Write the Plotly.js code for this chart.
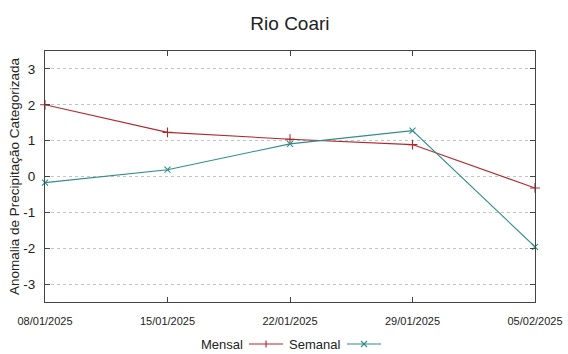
<!DOCTYPE html>
<html>
<head>
<meta charset="utf-8">
<script src="https://cdn.plot.ly/plotly-3.0.1.min.js"></script>
<style>html,body{margin:0;padding:0;background:#fff;}#chart{width:568px;height:354px;}</style>
</head>
<body>
<div id="chart"></div>
<script>
const dates = ["2025-01-08", "2025-01-15", "2025-01-22", "2025-01-29", "2025-02-05"];
const tickLabels = ["08/01/2025", "15/01/2025", "22/01/2025", "29/01/2025", "05/02/2025"];
const mensal = [2.0, 1.23, 1.04, 0.89, -0.32];
const semanal = [-0.17, 0.19, 0.91, 1.28, -1.96];
const yTicks = [-3, -2, -1, 0, 1, 2, 3];
const yTickLabels = ["-3", "-2", "-1", "0", "1", "2", "3"];
const seriesNames = ["Mensal", "Semanal"];
const yTitle = 'Anomalia de Precipitação Categorizada';

const RED = '#b3262c';
const TEAL = '#2f8c8c';
const FONT = 'Liberation Sans, Arial, sans-serif';

const traces = [
  {x: dates, y: mensal, name: seriesNames[0], type: 'scatter', mode: 'lines+markers',
   line: {color: RED, width: 1.1},
   marker: {symbol: 'cross-thin', size: 7, line: {color: RED, width: 1.1}},
   cliponaxis: false, showlegend: false},
  {x: dates, y: semanal, name: seriesNames[1], type: 'scatter', mode: 'lines+markers',
   line: {color: TEAL, width: 1.1},
   marker: {symbol: 'x-thin', size: 6, line: {color: TEAL, width: 1.1}},
   cliponaxis: false, showlegend: false}
];

const PW = 568 - 45 - 33, PH = 354 - 51 - 52;
function px2paperX(px){ return (px - 45) / PW; }
function px2paperY(py){ return (354 - 52 - py) / PH; }
const legY = px2paperY(344);
const shapes = [];
const annotations = [];
function legendItem(name, textRight, x0, x1, color, sym){
  annotations.push({xref:'paper', yref:'paper', x: px2paperX(textRight), y: legY,
    xanchor:'right', yanchor:'middle', text: name, showarrow:false,
    font:{family: FONT, size: 13, color:'#222'}});
  shapes.push({type:'line', xref:'paper', yref:'paper', x0: px2paperX(x0), x1: px2paperX(x1),
    y0: legY, y1: legY, line:{color: color, width: 1.1}});
  const cx = px2paperX((x0 + x1) / 2);
  const s = 3.5;
  if (sym === '+') {
    shapes.push({type:'line', xref:'paper', yref:'paper', xsizemode:'pixel', ysizemode:'pixel',
      xanchor: cx, yanchor: legY, x0: 0, x1: 0, y0: -s, y1: s, line:{color: color, width: 1.1}});
  } else {
    shapes.push({type:'line', xref:'paper', yref:'paper', xsizemode:'pixel', ysizemode:'pixel',
      xanchor: cx, yanchor: legY, x0: -3, x1: 3, y0: -3, y1: 3, line:{color: color, width: 1.1}});
    shapes.push({type:'line', xref:'paper', yref:'paper', xsizemode:'pixel', ysizemode:'pixel',
      xanchor: cx, yanchor: legY, x0: -3, x1: 3, y0: 3, y1: -3, line:{color: color, width: 1.1}});
  }
}
legendItem(seriesNames[0], 245, 249, 283, RED, '+');
legendItem(seriesNames[1], 342, 347, 381, TEAL, 'x');

const layout = {
  width: 568, height: 354,
  margin: {l: 45, r: 33, t: 51, b: 52},
  paper_bgcolor: '#fff', plot_bgcolor: '#fff',
  font: {family: FONT, color: '#222'},
  showlegend: false,
  title: {text: 'Rio Coari', x: 0.5105, xanchor: 'center', y: 0.935, yanchor: 'middle',
    font: {family: FONT, size: 19, color: '#222'}},
  xaxis: {
    type: 'date', range: [dates[0], dates[dates.length - 1]],
    tickvals: dates, ticktext: tickLabels,
    ticks: 'inside', ticklen: 5, tickcolor: '#444', tickwidth: 1,
    showline: true, linecolor: '#444', linewidth: 1, mirror: 'ticks',
    showgrid: false, zeroline: false,
    tickfont: {family: FONT, size: 11, color: '#222'}, ticklabelstandoff: 9
  },
  yaxis: {
    range: [-3.5, 3.5], tickvals: yTicks, ticktext: yTickLabels,
    ticks: 'inside', ticklen: 5, tickcolor: '#444', tickwidth: 1,
    showline: true, linecolor: '#444', linewidth: 1, mirror: 'ticks',
    showgrid: true, gridcolor: '#c4c4c4', griddash: 'dot', gridwidth: 1,
    zeroline: false,
    tickfont: {family: FONT, size: 13.5, color: '#222'}, ticklabelstandoff: 6,
    title: {text: yTitle, standoff: 0, font: {family: FONT, size: 13.5, color: '#222'}}
  },
  shapes: shapes,
  annotations: annotations
};

Plotly.newPlot('chart', traces, layout, {displayModeBar: false, staticPlot: true});
</script>
</body>
</html>
